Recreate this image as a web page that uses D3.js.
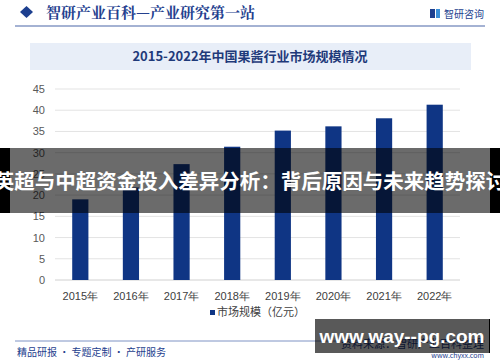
<!DOCTYPE html>
<html>
<head>
<meta charset="utf-8">
<script src="https://cdn.jsdelivr.net/npm/d3@7"></script>
<style>
body{margin:0;background:#fff;}
svg{display:block;font-family:"Noto Sans CJK SC","Noto Sans",sans-serif;}
</style>
</head>
<body>
<div id="chart"></div>
<script>
var years = ["2015年","2016年","2017年","2018年","2019年","2020年","2021年","2022年"];
var values = [19.0, 21.8, 27.3, 31.4, 35.2, 36.2, 38.1, 41.3];
var yTicks = [0,5,10,15,20,25,30,35,40,45];
var seriesName = "市场规模（亿元）";
var chartTitle = "2015-2022年中国果酱行业市场规模情况";
var headerText = "智研产业百科—产业研究第一站";
var bannerText = "英超与中超资金投入差异分析：背后原因与未来趋势探讨";

var svg = d3.select("#chart").append("svg").attr("width",500).attr("height",362),
    margin = {top: 89, right: 40, bottom: 82, left: 55},
    width = 500 - margin.left - margin.right,
    height = 362 - margin.top - margin.bottom,
    g = svg.append("g").attr("transform","translate("+margin.left+","+margin.top+")");

// header
svg.append("path").attr("d","M20,12 L26.5,6 L33,12 L26.5,18 Z").attr("fill","#1d3f8f");
svg.append("text").attr("x",46).attr("y",18).attr("font-size","15px").attr("font-weight","bold")
  .attr("fill","#24408e").attr("font-family","'Noto Serif CJK SC','DejaVu Serif',serif").text(headerText);
svg.append("line").attr("x1",15).attr("x2",485).attr("y1",26).attr("y2",26).attr("stroke","#4a66a8").attr("stroke-width",1.2);
// logo
var logo = svg.append("g").attr("transform","translate(430,9)");
logo.append("rect").attr("x",0).attr("y",0).attr("width",5).attr("height",9).attr("fill","#1d3f8f");
logo.append("rect").attr("x",6).attr("y",0).attr("width",4).attr("height",9).attr("fill","#3a8fd8");
svg.append("text").attr("x",444).attr("y",18).attr("font-size","10px").attr("fill","#1d3f8f").text("智研咨询");

// chart title box
svg.append("rect").attr("x",30).attr("y",43).attr("width",441).attr("height",27).attr("fill","#e8eef8");
svg.append("text").attr("x",250).attr("y",61).attr("text-anchor","middle").attr("font-size","13px")
  .attr("font-weight","bold").attr("fill","#1f3a7a").text(chartTitle);

var x = d3.scaleBand().domain(years).range([0,width]).paddingInner(0.68).paddingOuter(0.34);
var y = d3.scaleLinear().domain([0,45]).range([height,0]);

// grid
g.selectAll(".grid").data(yTicks).enter().append("line")
  .attr("x1",0).attr("x2",width)
  .attr("y1",function(d){return y(d);}).attr("y2",function(d){return y(d);})
  .attr("stroke",function(d){return d===0?"#d0d0d0":"#e3e3e3";}).attr("stroke-width",1);

var yAxis = g.append("g").call(d3.axisLeft(y).tickValues(yTicks).tickSize(0).tickPadding(10));
yAxis.select(".domain").remove();
yAxis.selectAll("text").attr("font-size","11px").attr("fill","#595959").attr("font-family","'Liberation Sans',Arial,sans-serif");

var xAxis = g.append("g").attr("transform","translate(0,"+height+")").call(d3.axisBottom(x).tickSize(0).tickPadding(12));
xAxis.select(".domain").remove();
xAxis.selectAll("text").attr("font-size","11px").attr("fill","#404040");

g.selectAll(".bar").data(values).enter().append("rect")
  .attr("x",function(d,i){return x(years[i]);})
  .attr("width",x.bandwidth())
  .attr("y",function(d){return y(d);})
  .attr("height",function(d){return height-y(d);})
  .attr("fill","#0f3584");

// legend
svg.append("rect").attr("x",210).attr("y",310).attr("width",5).attr("height",5).attr("fill","#0f3584");
svg.append("text").attr("x",217).attr("y",316).attr("font-size","11px").attr("fill","#404040").text(seriesName);

// footer
svg.append("line").attr("x1",15).attr("x2",485).attr("y1",341).attr("y2",341).attr("stroke","#7f93c4").attr("stroke-width",1);
svg.append("text").attr("x",17).attr("y",356).attr("font-size","10px").attr("fill","#24408e").text("精品研报 · 专题定制 · 产研服务");
svg.append("text").attr("x",484).attr("y",348).attr("text-anchor","end").attr("font-size","11px").attr("fill","#24408e").text("资料来源：智研产业百科整理");
svg.append("text").attr("x",484).attr("y",358).attr("text-anchor","end").attr("font-size","7px").attr("fill","#24408e").text("www.chyxx.com");

// banner overlay
svg.append("rect").attr("x",0).attr("y",148).attr("width",10).attr("height",65).attr("fill","#000");
svg.append("rect").attr("x",490).attr("y",148).attr("width",10).attr("height",65).attr("fill","#000");
svg.append("rect").attr("x",10).attr("y",148).attr("width",480).attr("height",65).attr("fill","#000").attr("opacity",0.58);
svg.append("text").attr("x",250).attr("y",189).attr("text-anchor","middle").attr("font-size","20.5px")
  .attr("font-weight","bold").attr("fill","#fff").text(bannerText);

// bottom overlay
svg.append("rect").attr("x",315).attr("y",319).attr("width",175).attr("height",34).attr("fill","#000").attr("opacity",0.65);
svg.append("line").attr("x1",489.5).attr("x2",489.5).attr("y1",319).attr("y2",353).attr("stroke","#000");
svg.append("text").attr("x",402).attr("y",343).attr("text-anchor","middle").attr("font-size","19px")
  .attr("font-weight","bold").attr("fill","#fff").attr("font-family","'Liberation Sans',Arial,sans-serif").text("www.way--pg.com");
</script>
</body>
</html>
